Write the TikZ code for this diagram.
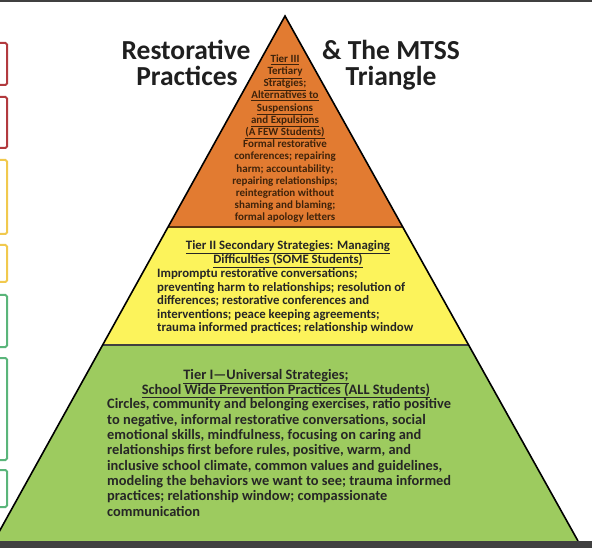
\documentclass[tikz,border=0pt]{standalone}
\usepackage{fontspec}
\setmainfont{Carlito}
\usetikzlibrary{positioning}
\definecolor{tierthree}{HTML}{E27B31}
\definecolor{tiertwo}{HTML}{FCF35B}
\definecolor{tierone}{HTML}{9DCB5F}
\definecolor{redbox}{HTML}{B23A3E}
\definecolor{yellowbox}{HTML}{F1C94E}
\definecolor{greenbox}{HTML}{5AB57A}
\definecolor{framegray}{HTML}{404040}
\definecolor{brownline}{HTML}{5A3210}
\tikzset{
  title/.style={font=\bfseries\fontsize{27.5}{29}\selectfont, anchor=base, inner sep=0pt, text=black!88},
  tierhead/.style={align=center, anchor=base, inner sep=0pt, text=black!85},
  tierbody/.style={align=left, anchor=base west, inner sep=0pt, text=black!85},
  sidebox/.style={line width=2pt, rounded corners=1.5pt},
}
\begin{document}
\begin{tikzpicture}[x=1pt,y=-1pt]
\useasboundingbox (0,0) rectangle (592,548);
\fill[framegray] (0,0) rectangle (592,2);

\coordinate (apex) at (285,16);
\coordinate (lthree) at (168,227);
\coordinate (rthree) at (402.8,227);
\coordinate (ltwo) at (102.6,345);
\coordinate (rtwo) at (468.6,345);
\coordinate (lone) at (-6,541);
\coordinate (rone) at (578,541);

\fill[tierthree] (apex) -- (rthree) -- (lthree) -- cycle;
\fill[tiertwo] (lthree) -- (rthree) -- (rtwo) -- (ltwo) -- cycle;
\fill[tierone] (ltwo) -- (rtwo) -- (rone) -- (lone) -- cycle;
\draw[line width=1.6pt, brownline] (lthree) -- (rthree);
\draw[line width=1.2pt, framegray] (ltwo) -- (rtwo);
\draw[line width=1.6pt, line join=miter] (lone) -- (apex) -- (rone);
\fill[framegray] (0,541) rectangle (592,548);

\draw[sidebox, redbox] (-10,43) rectangle (7,85);
\draw[sidebox, redbox] (-10,97) rectangle (7,148);
\draw[sidebox, yellowbox] (-10,160) rectangle (7,234);
\draw[sidebox, yellowbox] (-10,245) rectangle (7,282);
\draw[sidebox, greenbox] (-10,295) rectangle (7,347);
\draw[sidebox, greenbox] (-10,358) rectangle (7,460);
\draw[sidebox, greenbox] (-10,470) rectangle (7,507);

\node[title] (restorative) at (186,60) {Restorative};
\node[title] (practices) at (187,86) {Practices};
\node[title] (mtss) at (391,60) {\& The MTSS};
\node[title] (triangle) at (391,86) {Triangle};

\node[tierhead, text=brownline!70!black, font=\bfseries\fontsize{11}{12.2}\selectfont] (tierthreetext) at (285,221)
  {\underline{Tier III}\\\underline{Tertiary}\\\underline{Stratgies;}\\\underline{Alternatives to}\\
   \underline{Suspensions}\\\underline{and Expulsions}\\\underline{(A FEW Students)}\\
   Formal restorative\\conferences; repairing\\harm; accountability;\\repairing  relationships;\\
   reintegration without\\shaming and blaming;\\formal apology letters};

\node[tierhead, font=\bfseries\fontsize{12.8}{13.5}\selectfont] (tiertwohead) at (288,264)
  {\underline{Tier II Secondary  Strategies: Managing}\\\underline{Difficulties (SOME Students)}};
\node[tierbody, font=\bfseries\fontsize{12.8}{13.5}\selectfont] (tiertwobody) at (157,331.5)
  {Impromptu restorative conversations;\\preventing harm to relationships; resolution of\\
   differences; restorative conferences and\\interventions; peace keeping agreements;\\
   trauma informed practices; relationship window};

\node[tierhead, font=\bfseries\fontsize{14.4}{15.3}\selectfont] (tieronehead) at (266,379)
  {\underline{Tier I—Universal Strategies;}};
\node[tierhead, font=\bfseries\fontsize{14.4}{15.3}\selectfont] (tieronesub) at (286,394)
  {\underline{School Wide Prevention Practices (ALL Students)}};
\node[tierbody, font=\bfseries\fontsize{14.4}{15.3}\selectfont] (tieronebody) at (107,516)
  {Circles, community and belonging exercises, ratio positive\\to negative, informal restorative conversations, social\\
   emotional skills, mindfulness, focusing on caring and\\relationships first before rules, positive, warm, and\\
   inclusive school climate, common values and guidelines,\\modeling the behaviors we want to see; trauma informed\\
   practices; relationship window; compassionate\\communication};
\end{tikzpicture}
\end{document}
